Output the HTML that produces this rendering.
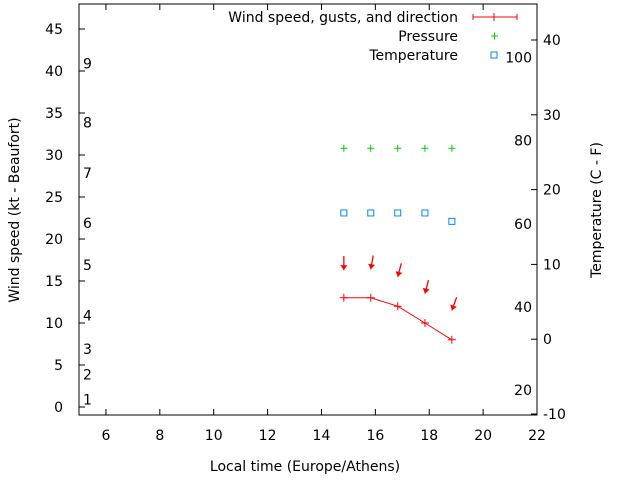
<!DOCTYPE html>
<html><head><meta charset="utf-8"><style>
body{margin:0;background:#fff}
svg{display:block;font-family:"DejaVu Sans","Liberation Sans",sans-serif;font-size:14px}
</style></head><body>
<svg id="c" width="640" height="480"></svg>
<script>
const times=[14.83,15.83,16.83,17.84,18.84];
const wind=[13,13,12,10,8];
const gust=[16.3,16.4,15.5,13.5,11.5];
const dirDeg=[0,10,15,15,20];
const pressure=[30.8,30.8,30.8,30.8,30.8];
const temperature=[23.1,23.1,23.1,23.1,22.1];
const xTicks=[6,8,10,12,14,16,18,20,22];
const yTicks=[0,5,10,15,20,25,30,35,40,45];
const cTicks=[-10,0,10,20,30,40];
const fTicks=[20,40,60,80,100];
const bfLabels=[1,2,3,4,5,6,7,8,9];
const bfKt=[1,4,7,11,17,22,28,34,41];

const L=79,R=537,T=4,B=415;
const X=v=>L+(v-5)*(R-L)/17;
const Y=v=>407-v*8.4;
const YC=c=>414-(c+10)*7.48;
const NS="http://www.w3.org/2000/svg";
const svg=document.getElementById('c');
function el(t,a,txt){const e=document.createElementNS(NS,t);for(const k in a)e.setAttribute(k,a[k]);if(txt!==undefined)e.textContent=txt;svg.appendChild(e);return e;}

let e=el('rect',{x:L,y:T,width:R-L,height:B-T,fill:'none',stroke:'#000','stroke-width':1});


xTicks.forEach(v=>{
  el('line',{x1:X(v),x2:X(v),y1:B,y2:B-6,stroke:'#000'});
  el('line',{x1:X(v),x2:X(v),y1:T,y2:T+6,stroke:'#000'});
  const t=el('text',{x:X(v),y:B+25,'text-anchor':'middle',fill:'#000'},v);
  
  
});
yTicks.forEach(v=>{
  el('line',{x1:L,x2:L+6,y1:Y(v),y2:Y(v),stroke:'#000'});
  const t=el('text',{x:L-16,y:Y(v)+5,'text-anchor':'end'},v);
  
  
});
cTicks.forEach(v=>{
  el('line',{x1:R,x2:R-6,y1:YC(v),y2:YC(v),stroke:'#000'});
  const t=el('text',{x:R+6,y:YC(v)+5},v);
  
  
});
fTicks.forEach(v=>{
  const t=el('text',{x:532,y:YC((v-32)*5/9)+6,'text-anchor':'end'},v);
  
  
});
bfLabels.forEach((b,i)=>{
  const t=el('text',{x:83,y:Y(bfKt[i])+6},b);
  
  
});
let t=el('text',{x:305,y:471,'text-anchor':'middle'},'Local time (Europe/Athens)');


t=el('text',{x:19,y:210,'text-anchor':'middle',transform:'rotate(-90 19 210)'},'Wind speed (kt - Beaufort)');


t=el('text',{x:601,y:210,'text-anchor':'middle',transform:'rotate(-90 601 210)'},'Temperature (C - F)');



const pl=el('polyline',{points:times.map((v,i)=>X(v)+','+Y(wind[i])).join(' '),fill:'none',stroke:'#f00'});


times.forEach((v,i)=>{
  const x=X(v),y=Y(wind[i]);
  el('path',{d:`M${x-4},${y}h8M${x},${y-4}v8`,stroke:'#f00'});
  const a=dirDeg[i]*Math.PI/180, tx=x, ty=Y(gust[i]);
  const sx=tx+14*Math.sin(a), sy=ty-14*Math.cos(a);
  const g=el('g',{});
  
  
  const ln=document.createElementNS(NS,'line');
  [['x1',sx],['y1',sy],['x2',tx],['y2',ty],['stroke','#f00'],['stroke-width',1.3]].forEach(p=>ln.setAttribute(p[0],p[1]));
  g.appendChild(ln);
  const dx=Math.sin(a),dy=-Math.cos(a),px=-dy,py=dx;
  const hd=document.createElementNS(NS,'path');
  hd.setAttribute('d',`M${tx},${ty}L${tx+5*dx+3.5*px},${ty+5*dy+3.5*py}L${tx+5*dx-3.5*px},${ty+5*dy-3.5*py}Z`);
  hd.setAttribute('fill','#f00');
  g.appendChild(hd);
  const px2=X(v),py2=Y(pressure[i]);
  const p=el('path',{d:`M${px2-3.5},${py2}h7M${px2},${py2-3.5}v7`,stroke:'#0c0'});
  
  
  const q=el('rect',{x:X(v)-3,y:Y(temperature[i])-3,width:6,height:6,fill:'none',stroke:'#08f'});
  
  
});
const lg=[['Wind speed, gusts, and direction',17],['Pressure',36],['Temperature',55]];
lg.forEach(l=>{
  const t=el('text',{x:458,y:l[1]+5,'text-anchor':'end'},l[0]);
  
  
});
el('path',{d:'M473,17h44M473,14v6M494,13v8M517,14v6',stroke:'#f00'});
el('path',{d:'M491,36h7M494.5,32.5v7',stroke:'#0c0'});
el('rect',{x:491,y:52,width:6,height:6,fill:'none',stroke:'#08f'});
</script>
</body></html>
